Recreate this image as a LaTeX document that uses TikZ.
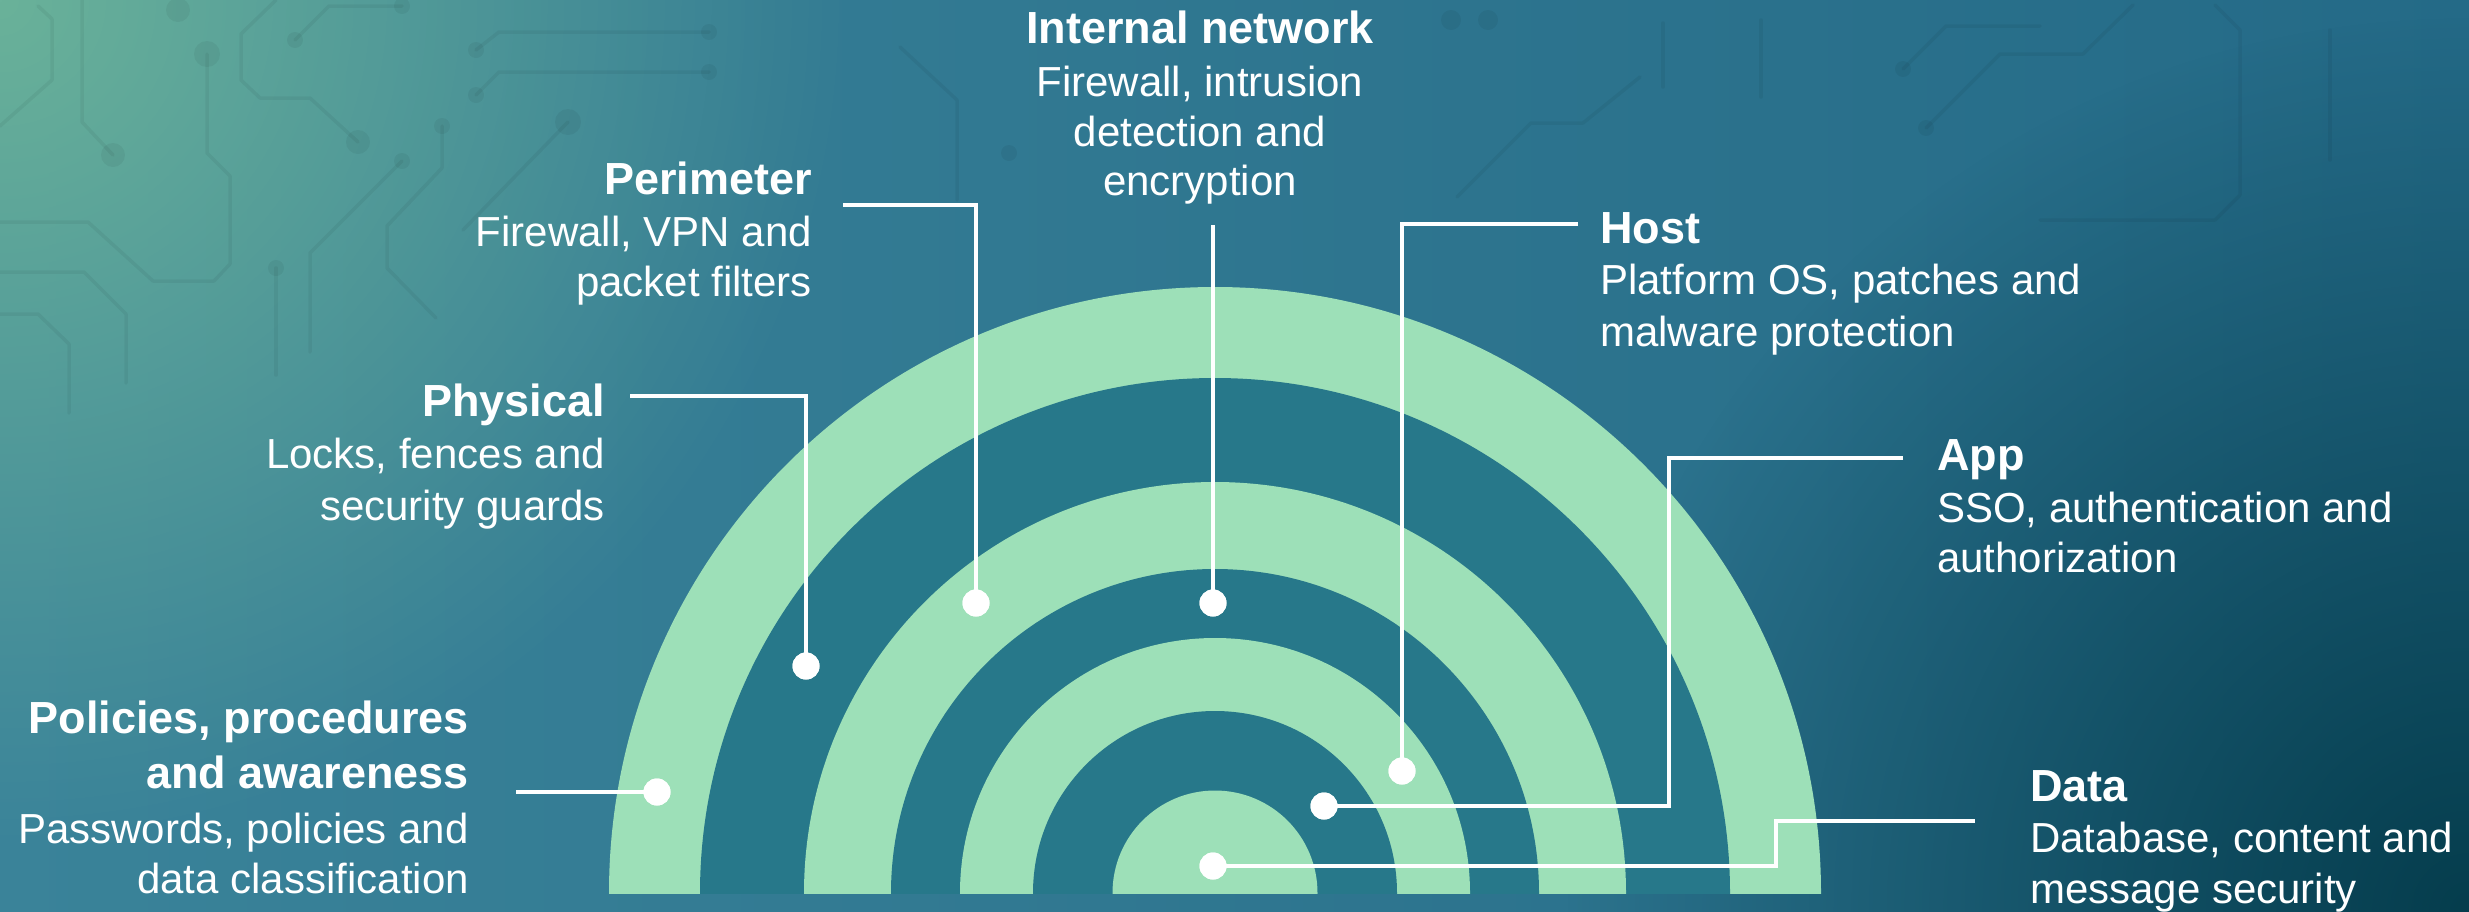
\documentclass[tikz,border=0pt]{standalone}
\usepackage{fontspec}
\setmainfont{Liberation Sans}
\usetikzlibrary{fadings}
\definecolor{bgL}{HTML}{3A8399}
\definecolor{bgM}{HTML}{307A96}
\definecolor{bgR}{HTML}{246A87}
\definecolor{glowG}{HTML}{6AB29A}
\definecolor{glowD}{HTML}{053D4D}
\definecolor{ringG}{HTML}{9DE0B8}
\definecolor{ringD}{HTML}{27788A}
\tikzfading[name=glowfade, inner color=transparent!0, outer color=transparent!100]
\tikzset{
  ttl/.style={font=\fontsize{45}{54}\selectfont\bfseries, text=white, inner sep=0pt},
  dsc/.style={font=\fontsize{42}{50}\selectfont, text=white, inner sep=0pt},
  lnk/.style={draw=white, line width=3.5pt},
  dotn/.style={circle, fill=white, minimum size=27pt, inner sep=0pt},
  trace/.style={draw=black, draw opacity=0.05, line width=3.5pt, line cap=round, line join=round},
  pad/.style={fill=black, fill opacity=0.05},
}
\begin{document}
\begin{tikzpicture}[x=1pt,y=-1pt]
\useasboundingbox (0,0) rectangle (2469,911);
% background
\shade[left color=bgL, middle color=bgM, right color=bgR] (0,0) rectangle (2469,911);
\fill[glowG, path fading=glowfade] (0,0) circle[radius=850];
\fill[glowD, path fading=glowfade] (2469,911) circle[radius=900];
% faint circuit traces
\draw[trace] (0,126) -- (52,80) -- (52,19) -- (38,6);
\draw[trace] (82,0) -- (82,122) -- (113,155);
\fill[pad] (113,155) circle[radius=12];
\draw[trace] (207,54) -- (207,153) -- (230,176) -- (230,264) -- (214,281) -- (153,281) -- (88,222) -- (0,222);
\fill[pad] (207,54) circle[radius=13];
\fill[pad] (178,10) circle[radius=12];
\draw[trace] (276,0) -- (241,34) -- (241,80) -- (260,98) -- (310,98) -- (358,142);
\fill[pad] (358,142) circle[radius=12];
\draw[trace] (295,40) -- (329,6) -- (402,6);
\fill[pad] (295,40) circle[radius=8];
\fill[pad] (402,6) circle[radius=8];
\draw[trace] (476,50) -- (499,32) -- (709,32);
\fill[pad] (476,50) circle[radius=8];
\fill[pad] (709,32) circle[radius=8];
\draw[trace] (476,95) -- (499,72) -- (709,72);
\fill[pad] (476,95) circle[radius=8];
\fill[pad] (709,72) circle[radius=8];
\draw[trace] (402,161) -- (310,253) -- (310,352);
\fill[pad] (402,161) circle[radius=8];
\draw[trace] (442,126) -- (442,168) -- (387,226) -- (387,268) -- (436,318);
\fill[pad] (442,126) circle[radius=8];
\draw[trace] (568,122) -- (463,230);
\fill[pad] (568,122) circle[radius=13];
\draw[trace] (0,272) -- (84,272) -- (126,314) -- (126,383);
\draw[trace] (0,314) -- (38,314) -- (69,344) -- (69,413);
\draw[trace] (276,268) -- (276,375);
\fill[pad] (276,268) circle[radius=8];
\draw[trace] (900,47) -- (957,100) -- (957,200);
\fill[pad] (1009,153) circle[radius=8];
\draw[trace] (1457,197) -- (1531,123) -- (1583,123) -- (1640,77);
\fill[pad] (1451,20) circle[radius=10];
\fill[pad] (1488,20) circle[radius=10];
\draw[trace] (1663,23) -- (1663,87);
\draw[trace] (1761,20) -- (1761,97);
\draw[trace] (1903,69) -- (1946,26) -- (2040,26);
\fill[pad] (1903,69) circle[radius=8];
\draw[trace] (1926,128) -- (2000,54) -- (2083,54) -- (2133,5);
\fill[pad] (1926,128) circle[radius=8];
\draw[trace] (2040,220) -- (2215,220) -- (2240,195) -- (2240,30) -- (2215,5);
\draw[trace] (2330,30) -- (2330,160);
% rings
\begin{scope}
\clip (0,0) rectangle (2469,893);
\fill[ringG] (1215,893) circle[radius=606];
\fill[ringD] (1215,893) circle[radius=515];
\fill[ringG] (1215,893) circle[radius=411];
\fill[ringD] (1215,893) circle[radius=324];
\fill[ringG] (1215,893) circle[radius=255];
\fill[ringD] (1215,893) circle[radius=182];
\fill[ringG] (1215,893) circle[radius=102.5];
\end{scope}
% labels
\node[ttl, anchor=base] (intT) at (1200,43) {Internal network};
\node[dsc, anchor=base] (intD1) at (1200,96) {Firewall, intrusion};
\node[dsc, anchor=base] (intD2) at (1200,146) {detection and};
\node[dsc, anchor=base] (intD3) at (1200,195) {encryption};

\node[ttl, anchor=base east] (perT) at (812,194) {Perimeter};
\node[dsc, anchor=base east] (perD1) at (812,246) {Firewall, VPN and};
\node[dsc, anchor=base east] (perD2) at (812,296) {packet filters};

\node[ttl, anchor=base east] (phyT) at (605,416) {Physical};
\node[dsc, anchor=base east] (phyD1) at (605,468) {Locks, fences and};
\node[dsc, anchor=base east] (phyD2) at (605,520) {security guards};

\node[ttl, anchor=base east] (polT1) at (469,733) {Policies, procedures};
\node[ttl, anchor=base east] (polT2) at (469,788) {and awareness};
\node[dsc, anchor=base east] (polD1) at (469,843) {Passwords, policies and};
\node[dsc, anchor=base east] (polD2) at (469,893) {data classification};

\node[ttl, anchor=base west] (hostT) at (1600,243) {Host};
\node[dsc, anchor=base west] (hostD1) at (1600,294) {Platform OS, patches and};
\node[dsc, anchor=base west] (hostD2) at (1600,346) {malware protection};

\node[ttl, anchor=base west] (appT) at (1937,470) {App};
\node[dsc, anchor=base west] (appD1) at (1937,522) {SSO, authentication and};
\node[dsc, anchor=base west] (appD2) at (1937,572) {authorization};

\node[ttl, anchor=base west] (dataT) at (2030,801) {Data};
\node[dsc, anchor=base west] (dataD1) at (2030,852) {Database, content and};
\node[dsc, anchor=base west] (dataD2) at (2030,903) {message security};
% dots
\node[dotn] (polDot) at (657,792) {};
\node[dotn] (phyDot) at (806,666) {};
\node[dotn] (perDot) at (976,603) {};
\node[dotn] (intDot) at (1213,603) {};
\node[dotn] (hostDot) at (1402,771) {};
\node[dotn] (appDot) at (1324,806) {};
\node[dotn] (dataDot) at (1213,866) {};
% connector starts
\coordinate (polA) at (516,792);
\coordinate (phyA) at (630,396);
\coordinate (perA) at (843,205);
\coordinate (intA) at (1213,225);
\coordinate (hostA) at (1578,224);
\coordinate (appA) at (1903,458);
\coordinate (appK) at (1669,806);
\coordinate (dataA) at (1975,821);
\coordinate (dataK) at (1776,866);
% connectors
\draw[lnk] (polA) -- (polDot.center);
\draw[lnk] (phyA) -| (phyDot.center);
\draw[lnk] (perA) -| (perDot.center);
\draw[lnk] (intA) -- (intDot.center);
\draw[lnk] (hostA) -| (hostDot.center);
\draw[lnk] (appA) -| (appK) -- (appDot.center);
\draw[lnk] (dataA) -| (dataK) -- (dataDot.center);
% redraw dots on top
\foreach \d in {polDot,phyDot,perDot,intDot,hostDot,appDot,dataDot}
  \fill[white] (\d.center) circle[radius=13.5];
\end{tikzpicture}
\end{document}
